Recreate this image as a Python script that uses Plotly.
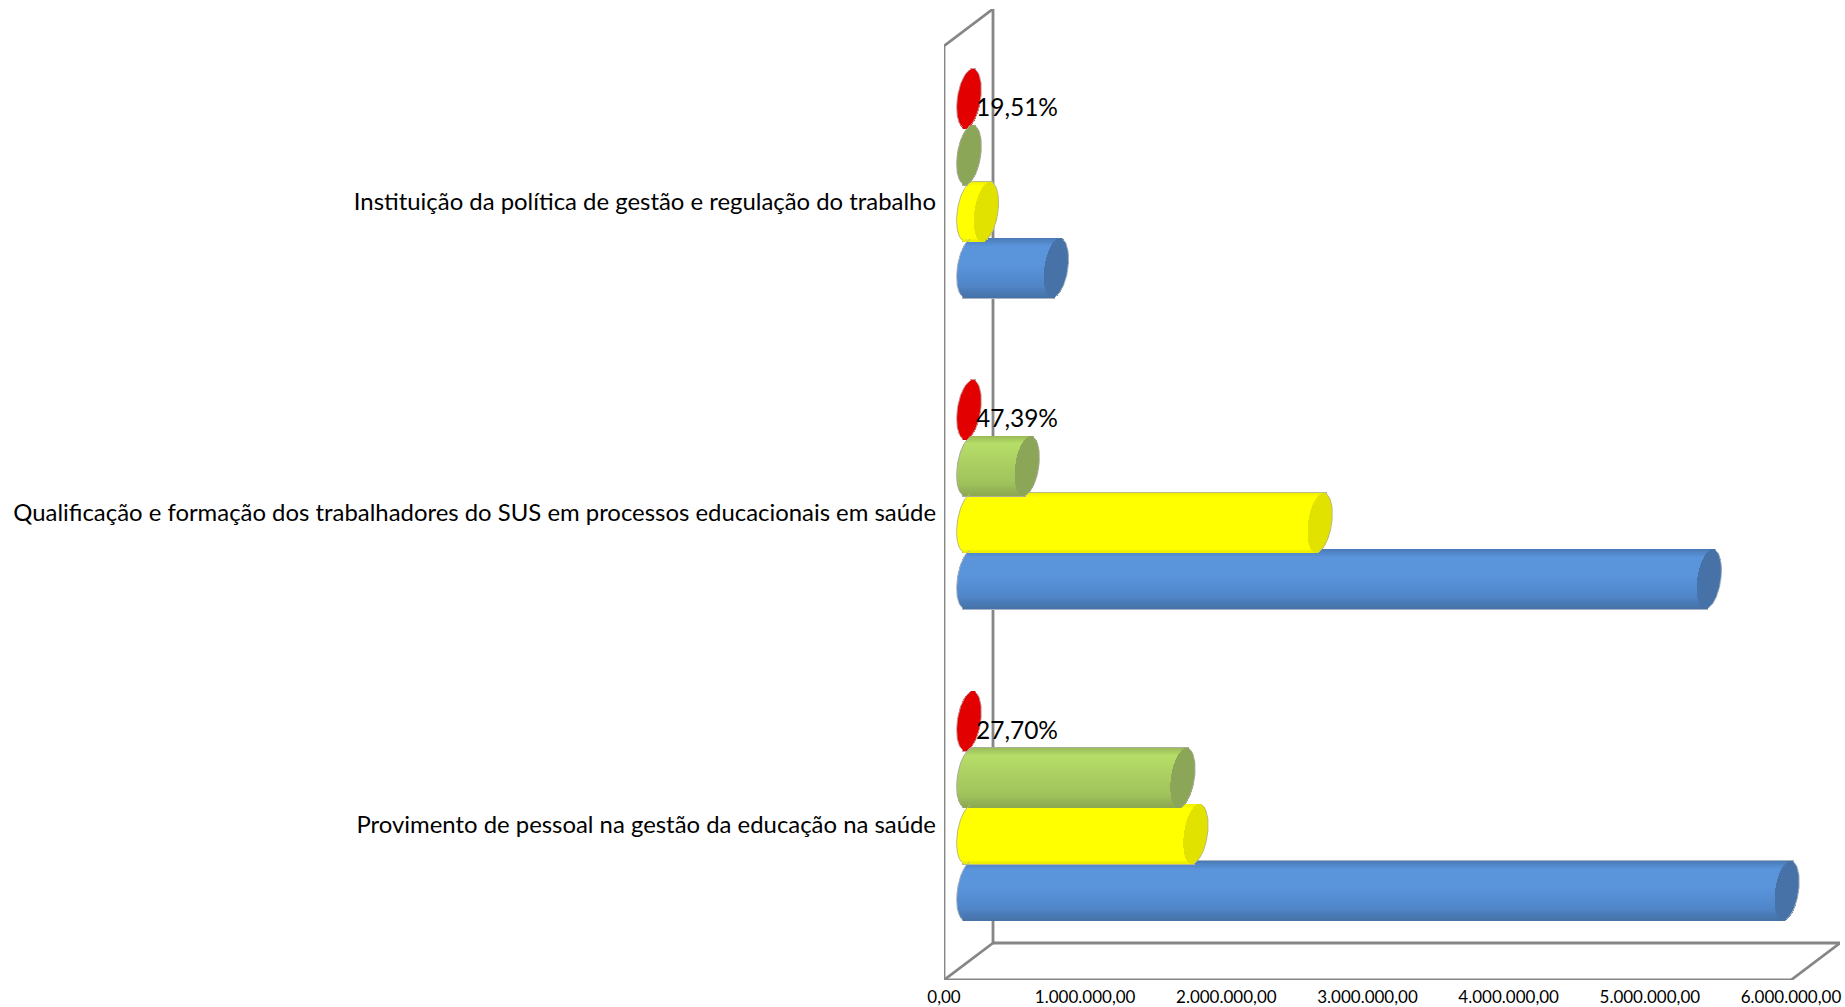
import math
import plotly.graph_objects as go

# ---- data ----
categories = ["Provimento de pessoal na gestão da educação na saúde",
              "Qualificação e formação dos trabalhadores do SUS em processos educacionais em saúde",
              "Instituição da política de gestão e regulação do trabalho"]
blue_values = [5794000, 5243000, 618000]
yellow_values = [1606000, 2486000, 122000]
green_values = [1514000, 411000, 0]
red_values = [0, 0, 0]
red_labels = ["27,70%", "47,39%", "19,51%"]
x_ticks = [0, 1000000, 2000000, 3000000, 4000000, 5000000, 6000000]
x_tick_labels = ["0,00", "1.000.000,00", "2.000.000,00", "3.000.000,00",
                 "4.000.000,00", "5.000.000,00", "6.000.000,00"]

# ---- geometry ----
W, H = 1845, 1007
L, R, T, B = 944, 1840, 9, 980
XU = 6e6 / 847          # value per pixel
YU = 3 / 934            # category unit per pixel
DX, DY = 49 * XU, 37 * YU
XMAX = (R - L) * XU
YMIN, YMAX = -0.5, 2.5 + DY
BASE = 25 * XU
CENTER_SHIFT = 18.5 * YU
HALF_H = 29.5 * YU
STEP = 56.5 * YU
A = 11.8 * XU
S = 3.8 * XU
ROWS = 59


def lerp_stops(stops, t):
    for (t0, c0), (t1, c1) in zip(stops, stops[1:]):
        if t0 >= t >= t1:
            f = (t0 - t) / (t0 - t1) if t0 != t1 else 0
            return "rgb(%d,%d,%d)" % tuple(round(a + (b - a) * f) for a, b in zip(c0, c1))
    return "rgb(%d,%d,%d)" % stops[-1][1]


series = [
    dict(name="blue", vals=blue_values, off=-1.5, cap=(70, 114, 168), edge="#a9b4c2",
         stops=[(1, (74, 122, 182)), (0.72, (90, 148, 219)), (0.1, (90, 148, 219)),
                (-0.6, (80, 134, 201)), (-1, (70, 114, 168))]),
    dict(name="yellow", vals=yellow_values, off=-0.5, cap=(226, 226, 0), edge="#b9b98a",
         stops=[(1, (240, 240, 0)), (0.85, (255, 255, 0)), (-0.9, (255, 255, 0)), (-1, (235, 235, 0))]),
    dict(name="green", vals=green_values, off=0.5, cap=(139, 166, 86), edge="#a8ad9c",
         stops=[(1, (154, 187, 89)), (0.75, (181, 221, 104)), (0.1, (172, 208, 98)),
                (-0.6, (160, 194, 92)), (-1, (140, 168, 80))]),
    dict(name="red", vals=red_values, off=1.5, cap=(226, 0, 0), edge="#c9a0a0",
         stops=[(1, (226, 0, 0)), (-1, (226, 0, 0))]),
]

fig = go.Figure()
rows = [1 - 2 * (i + 0.5) / ROWS for i in range(ROWS)]
rh = 2 * HALF_H / ROWS * 1.5
arcs = []

for s in series:
    ys, xs, bases, cols, widths = [], [], [], [], []
    for g, v in enumerate(s["vals"]):
        yc = g + CENTER_SHIFT + s["off"] * STEP
        tip = BASE + v
        # outline rows (grey silhouette just outside the body)
        for t in [1.0, -1.0]:
            ys.append(yc + t * HALF_H)
            bases.append(BASE + t * S - A * 0.25)
            xs.append(v + A * 0.5)
            cols.append(s["edge"])
            widths.append(1.4 * YU)
        # body rows
        for t in rows:
            c = math.sqrt(max(0, 1 - t * t))
            ys.append(yc + t * HALF_H)
            bases.append(BASE + t * S - A * c)
            xs.append(v + 2 * A * c)
            cols.append(lerp_stops(s["stops"], t))
            widths.append(rh)
        # end cap rows
        for t in rows:
            c = math.sqrt(max(0, 1 - t * t))
            ys.append(yc + t * HALF_H)
            bases.append(tip + t * S - A * c)
            xs.append(2 * A * c)
            cols.append("rgb(%d,%d,%d)" % s["cap"])
            widths.append(rh)
        # antialiased outline of both ends
        n = 40
        ts = [-0.97 + 1.94 * i / n for i in range(n + 1)]
        lx = [BASE + t * S - A * math.sqrt(1 - t * t) for t in ts]
        rx = [tip + t * S + A * math.sqrt(1 - t * t) for t in ts]
        yy = [yc + t * HALF_H for t in ts]
        arcs.append((lx, yy, s["edge"]))
        arcs.append((rx, yy, s["edge"]))
    fig.add_trace(go.Bar(orientation="h", x=xs, y=ys, base=bases, width=widths,
                         marker=dict(color=cols, line=dict(width=0)),
                         name=s["name"], showlegend=False, hoverinfo="skip"))

for ax, ay, col in arcs:
    fig.add_trace(go.Scatter(x=ax, y=ay, mode="lines", line=dict(color=col, width=1),
                             showlegend=False, hoverinfo="skip"))

# percentage labels next to the red series
fig.add_trace(go.Scatter(
    x=[BASE + v + 48 * XU for v in red_values],
    y=[g + CENTER_SHIFT + 1.5 * STEP - 11.5 * YU for g in range(3)],
    mode="text", text=red_labels, textposition="middle center",
    textfont=dict(family="Lato", size=24.5, color="#000000"),
    showlegend=False, hoverinfo="skip", cliponaxis=False))

# 3-D frame
FRAME = "#868686"
segs = [
    (0, -0.5, 0, 2.5),                    # front left vertical
    (0, -0.5, 6e6, -0.5),                 # front floor
    (0, -0.5, DX, -0.5 + DY),             # floor diagonal left
    (6e6, -0.5, 6e6 + DX, -0.5 + DY),     # floor diagonal right
    (DX, -0.5 + DY, 6e6 + DX, -0.5 + DY), # back floor
    (DX, -0.5 + DY, DX, 2.5 + DY),        # back wall vertical
    (0, 2.5, DX, 2.5 + DY),               # top diagonal
]
shapes = [dict(type="line", xref="x", yref="y", x0=a, y0=b, x1=c, y1=d,
               line=dict(color=FRAME, width=2.8), layer="below") for a, b, c, d in segs]

fig.update_layout(
    width=W, height=H, autosize=False,
    margin=dict(l=L, r=W - R, t=T, b=H - B, pad=0),
    paper_bgcolor="white", plot_bgcolor="white",
    barmode="overlay", bargap=0, showlegend=False, shapes=shapes,
    font=dict(family="Lato", color="#000000"),
    xaxis=dict(range=[0, XMAX], tickmode="array", tickvals=x_ticks, ticktext=x_tick_labels,
               showgrid=False, zeroline=False, showline=False, ticks="", automargin=False,
               tickfont=dict(family="Lato", size=17, color="#000000"), ticklabelstandoff=5),
    yaxis=dict(range=[YMIN, YMAX], tickmode="array", tickvals=[0, 1, 2], ticktext=categories,
               showgrid=False, zeroline=False, showline=False, ticks="", automargin=False,
               tickfont=dict(family="Lato", size=23.9, color="#000000"), ticklabelstandoff=7),
)

fig.write_html("out.html", config={"displayModeBar": False},
               post_script="document.body.style.margin='0';document.body.style.overflow='hidden';")
